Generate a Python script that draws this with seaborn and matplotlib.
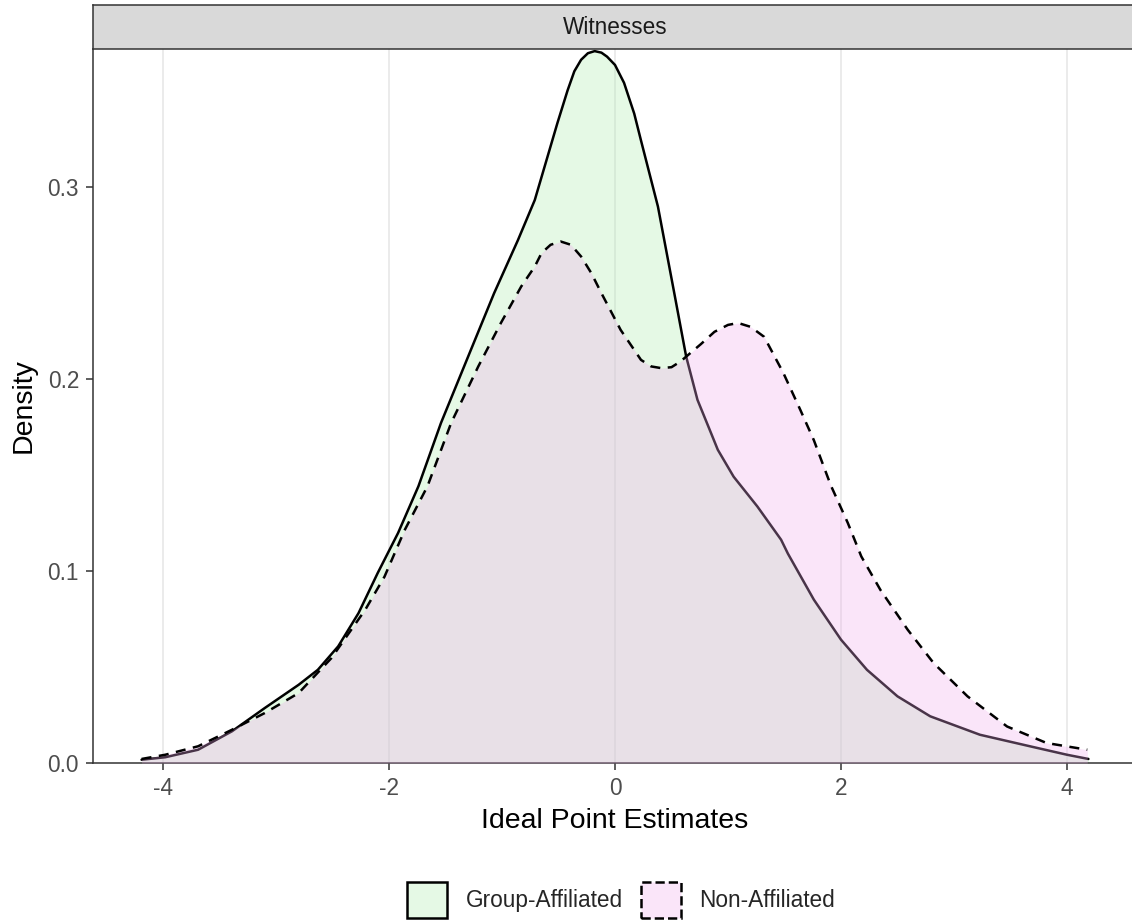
import numpy as np
import pandas as pd
import matplotlib.pyplot as plt
import seaborn as sns
from matplotlib.colors import to_rgb
from matplotlib.patches import Patch

# density curves (x = ideal point, y = density)
group_x = [-4.19, -3.98, -3.69, -3.39, -3.10, -2.80, -2.63, -2.45, -2.27, -2.10,
           -1.92, -1.74, -1.54, -1.30, -1.07, -0.86, -0.71, -0.64, -0.57, -0.51,
           -0.42, -0.36, -0.30, -0.24, -0.18, -0.12, -0.07, 0.00, 0.08, 0.17,
           0.23, 0.38, 0.52, 0.63, 0.73, 0.85, 0.91, 1.05, 1.26, 1.47,
           1.53, 1.76, 2.00, 2.23, 2.50, 2.79, 3.23, 3.68, 4.00, 4.19]
group_y = [0.0017, 0.0030, 0.0069, 0.0165, 0.0286, 0.0407, 0.0485, 0.0607, 0.0780, 0.0989,
           0.1197, 0.1440, 0.1770, 0.2115, 0.2445, 0.2720, 0.2930, 0.3070, 0.3210, 0.3330,
           0.3500, 0.3600, 0.3660, 0.3694, 0.3705, 0.3697, 0.3676, 0.3633, 0.3540, 0.3380,
           0.3240, 0.2896, 0.2460, 0.2115, 0.1890, 0.1717, 0.1630, 0.1490, 0.1335, 0.1162,
           0.1090, 0.0850, 0.0642, 0.0485, 0.0347, 0.0243, 0.0147, 0.0086, 0.0043, 0.0021]

non_x = [-4.19, -3.98, -3.69, -3.39, -3.10, -2.80, -2.51, -2.21, -2.04, -1.86,
         -1.66, -1.45, -1.21, -1.01, -0.83, -0.71, -0.65, -0.57, -0.48, -0.39,
         -0.30, -0.21, -0.12, 0.05, 0.23, 0.32, 0.41, 0.50, 0.58, 0.76,
         0.88, 1.00, 1.09, 1.20, 1.32, 1.49, 1.64, 1.76, 1.91, 2.06,
         2.18, 2.35, 2.59, 2.82, 3.12, 3.47, 3.82, 4.18]
non_y = [0.0021, 0.0043, 0.0087, 0.0173, 0.0260, 0.0364, 0.0546, 0.0798, 0.0970, 0.1214,
         0.1440, 0.1770, 0.2064, 0.2290, 0.2480, 0.2584, 0.2654, 0.2697, 0.2714, 0.2697,
         0.2636, 0.2550, 0.2445, 0.2254, 0.2098, 0.2064, 0.2055, 0.2060, 0.2090, 0.2180,
         0.2244, 0.2280, 0.2290, 0.2270, 0.2218, 0.2030, 0.1838, 0.1680, 0.1445, 0.1250,
         0.1075, 0.0900, 0.0694, 0.0520, 0.0347, 0.0190, 0.0104, 0.0069]

groups = ['Group-Affiliated', 'Non-Affiliated']
fills = ['#ABECAE', '#EFABEC']
styles = ['-', '--']
x_ticks = [-4, -2, 0, 2, 4]
y_ticks = [0.0, 0.1, 0.2, 0.3]
facet_label = 'Witnesses'

sns.set_theme(style='white')
plt.rcParams['font.family'] = ['Liberation Sans', 'DejaVu Sans']

W, H = 1132, 924
fig = plt.figure(figsize=(W / 100, H / 100), dpi=100)
left, right, bottom, top = 93, 1137, 763, 49
ax = fig.add_axes([left / W, 1 - bottom / H, (right - left) / W, (bottom - top) / H])

curves = [(group_x, group_y), (non_x, non_y)]
for i, (name, (xs, ys)) in enumerate(zip(groups, curves)):
    df = pd.DataFrame({'x': xs, 'y': ys})
    ax.fill_between(df['x'], 0, df['y'], color=fills[i], alpha=0.31, lw=0, zorder=2 + 2 * i)
    sns.lineplot(data=df, x='x', y='y', ax=ax, color='black', lw=1.8,
                 linestyle=styles[i], sort=False, zorder=3 + 2 * i)
    ln = ax.lines[-1]
    ln.set_solid_joinstyle('round')
    ln.set_dash_joinstyle('round')
    if styles[i] == '--':
        ln.set_dashes((4, 3))

ax.set_xlim(-4.62, 4.62)
ax.set_ylim(0, 0.3716)
ax.set_xticks(x_ticks)
ax.set_xticklabels([str(t) for t in x_ticks])
ax.set_yticks(y_ticks)
ax.set_yticklabels([f'{t:.1f}' for t in y_ticks])
ax.grid(axis='x', color='#EBEBEB', lw=1.4, zorder=0)
ax.grid(axis='y', visible=False)
ax.set_axisbelow(True)
for s in ['top', 'right']:
    ax.spines[s].set_visible(False)
for s in ['left', 'bottom']:
    ax.spines[s].set_color('#333333')
    ax.spines[s].set_linewidth(1.1)
ax.tick_params(axis='both', length=5, width=1.1, color='#333333', pad=5,
               labelsize=16.3, labelcolor='#4D4D4D', left=True, bottom=True)
ax.set_xlabel('Ideal Point Estimates', fontsize=20.5, color='black', labelpad=6)
ax.set_ylabel('Density', fontsize=20.5, color='black', labelpad=8)

# facet strip
strip = fig.add_axes([left / W, 1 - top / H, (right - left) / W, 44 / H])
strip.set_facecolor('#D9D9D9')
strip.set_xticks([])
strip.set_yticks([])
for s in strip.spines.values():
    s.set_color('#333333')
    s.set_linewidth(1.1)
strip.text(0.5, 0.5, facet_label, ha='center', va='center', fontsize=16.3, color='#1A1A1A',
           transform=strip.transAxes)

handles = [Patch(facecolor=(*to_rgb(fills[i]), 0.31), edgecolor='black',
                 linestyle=styles[i], linewidth=1.8, label=groups[i]) for i in range(2)]
fig.legend(handles=handles, loc='center', bbox_to_anchor=(621 / W, 1 - 900 / H), ncol=2,
           frameon=False, fontsize=16.3, handlelength=1.8, handleheight=2.1,
           columnspacing=0.8, handletextpad=0.8)

fig.savefig('out.png', dpi=100)
